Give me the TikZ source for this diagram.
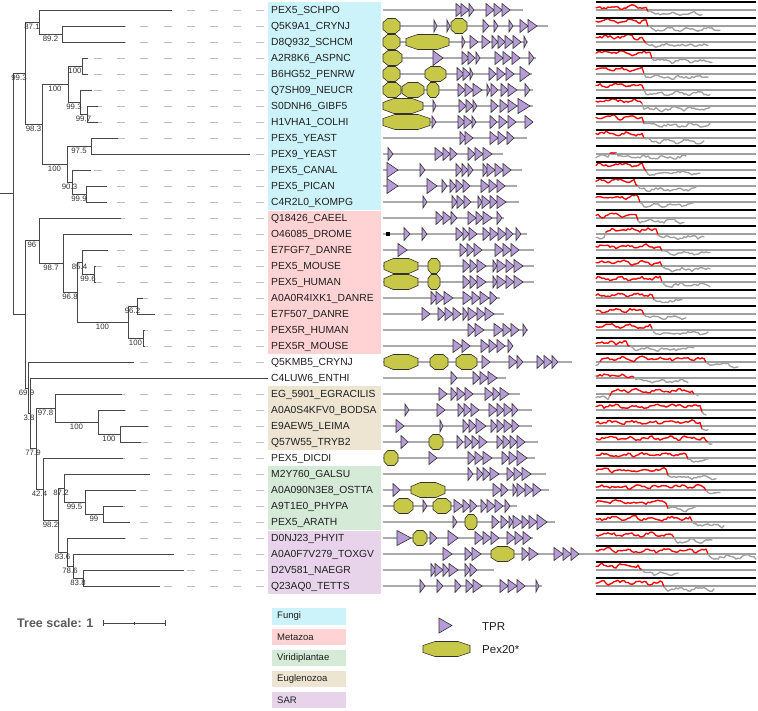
\documentclass[tikz,border=0pt]{standalone}
\usepackage{fontspec}
\setmainfont{Liberation Sans}
\usetikzlibrary{calc}
\definecolor{tprc}{RGB}{182,155,214}
\definecolor{pexc}{RGB}{200,200,72}
\definecolor{fungi}{RGB}{204,242,250}
\definecolor{meta}{RGB}{255,210,212}
\definecolor{viri}{RGB}{213,234,215}
\definecolor{eugl}{RGB}{237,229,210}
\definecolor{sar}{RGB}{231,212,235}
\definecolor{treec}{RGB}{70,70,70}
\definecolor{dashc}{RGB}{190,190,190}
\definecolor{bbc}{RGB}{170,170,170}
\definecolor{disg}{RGB}{160,160,160}
\definecolor{disr}{RGB}{255,0,0}
\definecolor{labc}{RGB}{30,30,30}
\definecolor{bsc}{RGB}{50,50,50}
\definecolor{outc}{RGB}{50,50,50}
\definecolor{legc}{RGB}{90,90,90}
\newcommand\tp[3]{\pgfmathsetmacro\hh{((#3-#2)>9.5)?7.5:(((#3-#2)<5)?6:6.5)}\filldraw[tpr] (#2,#1-\hh) -- (#2,#1+\hh) -- (#3,#1) -- cycle;}
\newcommand\oc[3]{\pgfmathsetmacro\occ{min(0.27*(#3-#2),12)}\filldraw[pex] (#2,#1-3.5) -- (#2+\occ,#1-7.5) -- (#3-\occ,#1-7.5) -- (#3,#1-3.5) -- (#3,#1+3.5) -- (#3-\occ,#1+7.5) -- (#2+\occ,#1+7.5) -- (#2,#1+3.5) -- cycle;}
\newcommand\dom[4]{\draw[bbl] (383,#1) -- (#2,#1);\def\tmpo{#3}\ifx\tmpo\empty\else\foreach \a/\b in {#3}{\oc{#1}{\a}{\b}}\fi\foreach \a/\b in {#4}{\tp{#1}{\a}{\b}}}
\newcommand\dis[5]{%
  \xdef\pvx{596}%
  \pgfmathsetmacro\tmpv{((596>=#2)&&(596<=#3))?#5:0.28}%
  \xdef\pvv{\tmpv}%
  \foreach \xx in {598,600,...,#4}{%
    \pgfmathsetmacro\bse{((\xx>=#2)&&(\xx<=#3))?#5:0.28}%
    \pgfmathsetmacro\nv{max(0.04,min(0.97,0.35*\pvv+0.65*(\bse+0.2*abs(sin((\xx-596)*9+#1*13))-0.1+0.26*(rnd-0.5))))}%
    \pgfmathsetmacro\mv{(\nv+\pvv)/2}%
    \ifdim\mv pt>0.5pt\def\dc{disr}\else\def\dc{disg}\fi
    \draw[\dc,line width=1.3pt,line cap=round] (\pvx,{#1+8-16*\pvv}) -- (\xx,{#1+8-16*\nv});%
    \xdef\pvx{\xx}\xdef\pvv{\nv}%
  }%
}
\begin{document}
\begin{tikzpicture}[x=1pt,y=-1pt,
 br/.style={draw=treec,line width=1pt},
 dl/.style={draw=dashc,line width=1pt,dash pattern=on 8pt off 15.2pt},
 lab/.style={anchor=base west,inner sep=0pt,text=labc,font=\fontsize{10.3}{12}\selectfont},
 bsl/.style={inner sep=0pt,text=bsc,font=\fontsize{7.8}{8}\selectfont},
 bbl/.style={draw=bbc,line width=1.2pt},
 tpr/.style={fill=tprc,draw=outc,line width=0.6pt},
 pex/.style={fill=pexc,draw=outc,line width=0.6pt},
 legbox/.style={anchor=north west,minimum width=74pt,minimum height=16.5pt,inner sep=0pt},
 legtxt/.style={anchor=west,inner sep=0pt,text=labc,font=\fontsize{9.5}{11}\selectfont},
 bigtxt/.style={anchor=west,inner sep=0pt,text=labc,font=\fontsize{11.5}{14}\selectfont},
]
\useasboundingbox (0,0) rectangle (758,710);
\pgfmathsetseed{11}
% taxon colour boxes
\fill[fungi] (268,2) rectangle (381,209.5);
\fill[meta] (268,210.5) rectangle (381,354);
\fill[eugl] (268,386) rectangle (381,450);
\fill[viri] (268,466) rectangle (381,529.5);
\fill[sar] (268,530.5) rectangle (381,594);
% tree nodes
\coordinate (rootstub) at (0,193.5);
\coordinate (root) at (13,193.5);
\coordinate (n993) at (25,73);
\coordinate (n871) at (39,22);
\coordinate (n892) at (62,34);
\coordinate (n983) at (42,124);
\coordinate (n100a) at (68,84);
\coordinate (n100c) at (82,66);
\coordinate (n993b) at (80,102);
\coordinate (n997) at (87,114);
\coordinate (n100b) at (67,164);
\coordinate (n975) at (91,146);
\coordinate (n903) at (72,182);
\coordinate (n999) at (86,194);
\coordinate (nLow) at (25,314);
\coordinate (n96) at (39,240.5);
\coordinate (n987) at (63,263);
\coordinate (n968) at (77,292);
\coordinate (n854) at (82,262);
\coordinate (n996) at (94,274);
\coordinate (n100d) at (128,322);
\coordinate (n962) at (137,306);
\coordinate (n100e) at (143,338);
\coordinate (n699) at (28,388);
\coordinate (n38) at (30,413);
\coordinate (n779) at (36,448.5);
\coordinate (n978) at (55,408);
\coordinate (n100f) at (98,422);
\coordinate (n100g) at (120,434);
\coordinate (n424) at (43,489);
\coordinate (n982) at (58,520);
\coordinate (n872) at (64,488);
\coordinate (n995) at (85,502);
\coordinate (n99) at (103,514);
\coordinate (n836) at (67,552);
\coordinate (n786) at (73,566);
\coordinate (n838) at (83,578);
\foreach \r/\xe in {1/172,2/125,3/125,4/88,5/88,6/92,7/98,8/98,9/118,10/250,11/91,12/107,13/107,14/121,15/132,16/108,17/96,18/96,19/143,20/155,21/145,22/145,23/134,24/268,25/122,26/125,27/148,28/141,29/123,30/150,31/136,32/123,33/130,34/125,35/174,36/184,37/160}
  \coordinate (L\r) at (\xe,{10+16*(\r-1)});
% leaf labels
\foreach \r/\t in {1/PEX5\_SCHPO,2/Q5K9A1\_CRYNJ,3/D8Q932\_SCHCM,4/A2R8K6\_ASPNC,5/B6HG52\_PENRW,6/Q7SH09\_NEUCR,7/S0DNH6\_GIBF5,8/H1VHA1\_COLHI,9/PEX5\_YEAST,10/PEX9\_YEAST,11/PEX5\_CANAL,12/PEX5\_PICAN,13/C4R2L0\_KOMPG,14/Q18426\_CAEEL,15/O46085\_DROME,16/E7FGF7\_DANRE,17/PEX5\_MOUSE,18/PEX5\_HUMAN,19/A0A0R4IXK1\_DANRE,20/E7F507\_DANRE,21/PEX5R\_HUMAN,22/PEX5R\_MOUSE,23/Q5KMB5\_CRYNJ,24/C4LUW6\_ENTHI,25/EG\_5901\_EGRACILIS,26/A0A0S4KFV0\_BODSA,27/E9AEW5\_LEIMA,28/Q57W55\_TRYB2,29/PEX5\_DICDI,30/M2Y760\_GALSU,31/A0A090N3E8\_OSTTA,32/A9T1E0\_PHYPA,33/PEX5\_ARATH,34/D0NJ23\_PHYIT,35/A0A0F7V279\_TOXGV,36/D2V581\_NAEGR,37/Q23AQ0\_TETTS}
  \node[lab] (t\r) at (271,{10+16*(\r-1)+3.7}) {\t};
% dashed leaders
\foreach \r/\xe in {1/172,2/125,3/125,4/88,5/88,6/92,7/98,8/98,9/118,10/250,11/91,12/107,13/107,14/121,15/132,16/108,17/96,18/96,19/143,20/155,21/145,22/145,23/134,25/122,26/125,27/148,28/141,29/123,30/150,31/136,32/123,33/130,34/125,35/174,36/184,37/160}{
  \pgfmathsetmacro\ph{mod(\xe-94+232,23.2)}
  \draw[dl,dash phase=\ph pt] (L\r) -- ([xshift=-6pt]t\r.west |- L\r);
}
% tree branches
\draw[br] (rootstub) -- (root);
\foreach \p/\c in {root/n993,root/nLow,n993/n871,n993/n983,n871/L1,n871/n892,n892/L2,n892/L3,n983/n100a,n983/n100b,n100a/n100c,n100a/n993b,n100c/L4,n100c/L5,n993b/L6,n993b/n997,n997/L7,n997/L8,n100b/n975,n100b/n903,n975/L9,n975/L10,n903/L11,n903/n999,n999/L12,n999/L13,nLow/n96,nLow/n699,n96/L14,n96/n987,n987/L15,n987/n968,n968/n854,n968/n100d,n854/L16,n854/n996,n996/L17,n996/L18,n100d/n962,n100d/n100e,n962/L19,n962/L20,n100e/L21,n100e/L22,n699/L23,n699/n38,n38/L24,n38/n779,n779/n978,n779/n424,n978/L25,n978/n100f,n100f/L26,n100f/n100g,n100g/L27,n100g/L28,n424/L29,n424/n982,n982/n872,n982/n836,n872/L30,n872/n995,n995/L31,n995/n99,n99/L32,n99/L33,n836/L34,n836/n786,n786/L35,n786/n838,n838/L36,n838/L37}
  \draw[br] (\p) |- (\c);
% bootstrap values
\foreach \p/\c/\v in {root/n993/99.3,n993/n871/87.1,n871/n892/89.2,n993/n983/98.3,n983/n100a/100,n100a/n100c/100,n100a/n993b/99.3,n993b/n997/99.7,n983/n100b/100,n100b/n975/97.5,n100b/n903/90.3,n903/n999/99.9,nLow/n96/96,n96/n987/98.7,n987/n968/96.8,n968/n854/85.4,n854/n996/99.6,n968/n100d/100,n100d/n962/96.2,n100d/n100e/100,nLow/n699/69.9,n699/n38/3.8,n38/n779/77.9,n779/n978/97.8,n978/n100f/100,n100f/n100g/100,n779/n424/42.4,n424/n982/98.2,n982/n872/87.2,n872/n995/99.5,n995/n99/99,n982/n836/83.6,n836/n786/78.6,n786/n838/83.8}
  \path ($(\p |- \c)!0.5!(\c)$) node[bsl,yshift=-4.5pt] (bs-\c) {\v};
% domain architectures
\dom{10}{523}{}{456/464,461/469,469/474,486/494,494/502,502/510}
\dom{26}{548}{383/400,451/467}{434/437,447/450,483/489,494/498,509/513,520/528,528/537}
\dom{42}{528}{383/400,406/449}{462/465,470/478,482/490,492/498,498/505,505/513,513/521,524/527}
\dom{58}{536}{383/402}{433/443,462/469,468/475,476/480,495/503,503/511,512/520,529/534}
\dom{74}{532}{383/400,425/446}{457/464,463/470,470/473,489/496,497/505,506/514,520/530}
\dom{90}{533}{383/401,402/424,427/439}{458/465,465/473,473/482,487/490,491/498,501/508,508/517,525/530}
\dom{106}{533}{383/423}{433/436,459/466,466/473,473/477,491/498,500/508,508/517,518/530}
\dom{122}{533}{383/430}{432/436,458/465,464/472,472/476,490/497,499/507,508/516,525/533}
\dom{138}{527}{}{460/466,465/473,490/498,498/506,507/514}
\dom{154}{503}{}{388/393,435/443,443/450,450/457,468/475,475/483,483/492}
\dom{170}{522}{}{387/398,420/425,456/462,462/468,468/473,483/488,487/495,495/503,503/511}
\dom{186}{517}{}{387/398,427/437,442/447,450/456,456/463,463/470,481/489,489/497,497/505}
\dom{202}{519}{}{423/427,452/457,457/464,464/471,478/482,482/490,490/497,497/506}
\dom{218}{504}{}{436/443,443/451,451/457,468/476,476/483,483/492,497/502}
\dom{234}{527}{}{404/410,422/427,456/463,463/469,469/477,483/490,490/498,498/506,506/513,516/521}
\fill (386,232) rectangle (390,236);
\dom{250}{534}{}{398/407,460/467,467/474,474/482,495/503,503/511,511/519}
\dom{266}{534}{384/418,428/440}{463/470,470/477,477/486,493/497,497/506,506/514,514/523}
\dom{282}{534}{384/418,428/440}{463/470,470/477,477/486,493/497,497/506,506/514,514/523}
\dom{298}{500}{}{431/437,436/444,444/453,463/472,472/480,480/489,490/497}
\dom{314}{504}{}{422/430,438/445,445/453,453/461,463/468,468/477,477/485,485/494}
\dom{330}{528}{}{468/475,475/484,494/503,503/511,511/519,523/527}
\dom{346}{513}{}{453/462,462/470,481/489,489/497,497/505,508/513}
\dom{362}{572}{384/418,430/448,456/477}{482/490,509/517,517/523,537/544,544/552,552/558}
\dom{378}{506}{}{451/457,473/480,480/488,488/497}
\dom{394}{520}{}{439/447,451/457,457/465,465/473,485/493,493/500,500/509}
\dom{410}{532}{}{405/409,437/445,458/464,464/471,471/479,489/497,497/504,504/512,512/518}
\dom{426}{532}{}{396/404,440/443,463/469,469/476,476/486,491/497,497/504,504/512,512/519}
\dom{442}{538}{429/443}{401/408,457/463,465/472,472/479,479/487,497/503,503/510,510/517,517/525}
\dom{458}{535}{384/398}{429/437,468/475,475/483,483/492,502/509,509/517,517/527}
\dom{474}{546}{}{468/473,477/483,483/490,490/499,507/514,514/522,522/531}
\dom{490}{549}{411/445}{393/400,493/501,501/508,513/517,517/525,525/533,533/541}
\dom{506}{517}{394/413,433/451}{423/427,454/463,463/470,470/477,481/487,487/495,495/503,505/510}
\dom{522}{555}{465/477}{453/457,492/499,501/508,509/513,513/522,522/529,529/537,537/547}
\dom{538}{533}{413/427}{397/411,430/437,448/458,475/483,483/491,491/499,507/515,515/523,523/531}
\dom{554}{597}{491/514}{443/452,465/472,472/481,522/529,529/538,554/563,563/571,571/579}
\dom{570}{494}{}{431/436,435/443,443/449,449/458,465/470,470/477}
\dom{586}{542}{}{420/425,437/443,455/461,466/473,473/482,500/508,508/517,517/525,536/539}
% disorder panel
\foreach \j in {0,...,36} \draw[disg,line width=1.2pt] (596,{10+16*\j}) -- (756,{10+16*\j});
\foreach \y/\rs/\re/\xe/\hb in {10/596/647/702/0.64,26/596/647/720/0.8,42/596/643/708/0.78,58/596/650/712/0.8,74/596/643/708/0.78,90/596/642/710/0.78,106/596/642/710/0.8,122/596/643/710/0.78,138/596/643/705/0.78,154/610/616/687/0.64,170/596/642/701/0.78,186/596/635/697/0.8,202/596/638/697/0.8,218/596/637/685/0.66,234/605/657/705/0.74,250/596/660/710/0.7,266/596/660/710/0.7,282/596/660/710/0.7,298/596/652/683/0.66,314/596/643/687/0.7,330/596/650/708/0.72,346/596/627/695/0.66,362/600/705/738/0.68,378/596/635/688/0.62,394/610/692/698/0.66,410/596/700/707/0.72,426/596/700/708/0.7,442/596/705/712/0.72,458/596/687/708/0.66,474/596/667/717/0.7,490/596/705/720/0.68,506/596/667/697/0.7,522/596/690/725/0.7,538/596/673/713/0.68,554/596/707/756/0.7,570/596/638/678/0.74,586/596/663/715/0.68}
  {\dis{\y}{\rs}{\re}{\xe}{\hb}}
\foreach \j in {0,...,37} \draw[black,line width=2.6pt] (596,{2+16*\j}) -- (756,{2+16*\j});
% legend: tree scale
\node[anchor=west,inner sep=0pt,text=legc,font=\bfseries\fontsize{12.5}{14}\selectfont] (tsc) at (17,623) {Tree scale: 1};
\coordinate (sb1) at (103,623);
\coordinate (sb2) at (165,623);
\coordinate (sbm) at (134,623);
\draw[treec,line width=0.9pt] (sb1) -- (sb2);
\draw[treec,line width=0.9pt] ([yshift=3pt]sb1) -- ([yshift=-3pt]sb1);
\draw[treec,line width=0.9pt] ([yshift=3pt]sb2) -- ([yshift=-3pt]sb2);
\draw[treec,line width=0.7pt] ([yshift=1.5pt]sbm) -- ([yshift=-1.5pt]sbm);
% legend: taxa
\node[legbox,fill=fungi] (lg1) at (272,608) {};
\node[legbox,fill=meta] (lg2) at (272,628.5) {};
\node[legbox,fill=viri] (lg3) at (272,649.5) {};
\node[legbox,fill=eugl] (lg4) at (272,670.5) {};
\node[legbox,fill=sar] (lg5) at (272,691.5) {};
\node[legtxt] at ([xshift=5pt]lg1.west) {Fungi};
\node[legtxt] at ([xshift=5pt]lg2.west) {Metazoa};
\node[legtxt] at ([xshift=5pt]lg3.west) {Viridiplantae};
\node[legtxt] at ([xshift=5pt]lg4.west) {Euglenozoa};
\node[legtxt] at ([xshift=5pt]lg5.west) {SAR};
% legend: domains
\filldraw[tpr] (439,618) -- (439,633) -- (452,625.5) -- cycle;
\node[bigtxt] (ltpr) at (482,626.5) {TPR};
\oc{649}{423}{470}
\node[bigtxt] (lpex) at (482,650) {Pex20*};
\end{tikzpicture}
\end{document}
